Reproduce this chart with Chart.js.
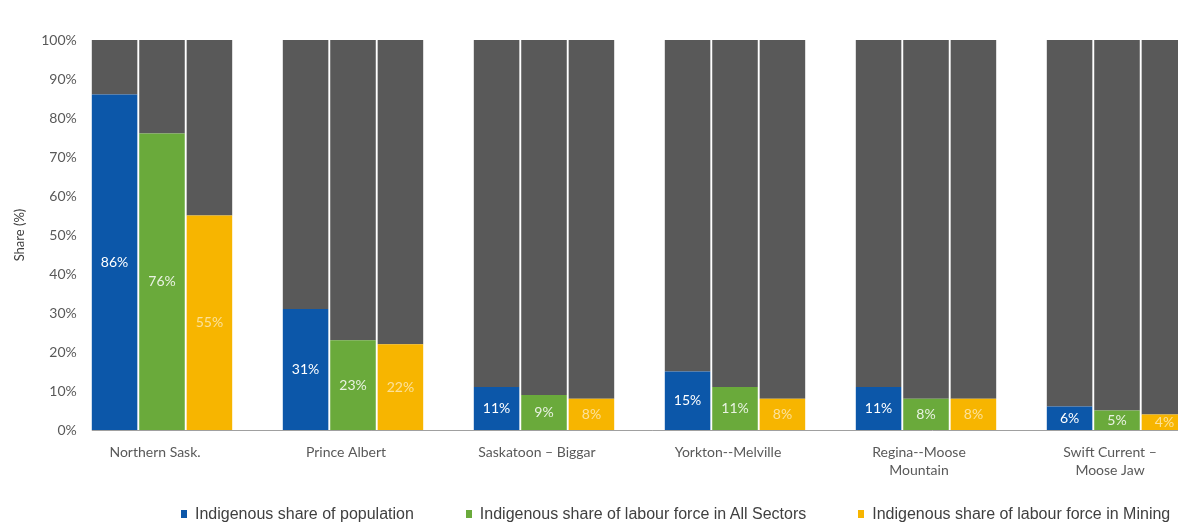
<!DOCTYPE html>
<html lang="en">
<head>
<meta charset="UTF-8">
<title>Indigenous share of population and labour force</title>
<script src="https://cdn.jsdelivr.net/npm/chart.js"></script>
<style>
  html, body { margin: 0; padding: 0; background: #fff; overflow: hidden; }
  .wrap { position: relative; width: 1300px; height: 525px; }
  #legend {
    position: absolute; left: 181px; top: 505px;
    display: flex; align-items: center;
    font-family: "Liberation Sans", Arial, sans-serif; font-size: 16px; color: #404040;
  }
  #legend .item { display: flex; align-items: center; margin-right: 52px; white-space: nowrap; }
  #legend .box { width: 6px; height: 8px; margin-right: 8px; }
</style>
</head>
<body>
<div class="wrap">
  <canvas id="shareChart"></canvas>
  <div id="legend"></div>
</div>

<script>
// economic regions
const regions = [
  'Northern Sask.',
  'Prince Albert',
  'Saskatoon – Biggar',
  'Yorkton--Melville',
  ['Regina--Moose', 'Mountain'],
  ['Swift Current –', 'Moose Jaw']
];

// Indigenous shares, in percent
const popShare = [86, 31, 11, 15, 11, 6];
const allSectorsShare = [76, 23, 9, 11, 8, 5];
const miningShare = [55, 22, 8, 8, 8, 4];

const yTicks = [0, 10, 20, 30, 40, 50, 60, 70, 80, 90, 100];

const series = [
  { label: 'Indigenous share of population', values: popShare, color: '#0c57a9', text: '#ffffff', stack: 'pop' },
  { label: 'Indigenous share of labour force in All Sectors', values: allSectorsShare, color: '#6aaa3b', text: 'rgba(255,255,255,0.85)', stack: 'all' },
  { label: 'Indigenous share of labour force in Mining', values: miningShare, color: '#f7b500', text: 'rgba(255,255,255,0.6)', stack: 'mining' }
];

const restColor = '#595959';

// coloured share first, then the grey remainder on top of it
const datasets = series.map(s => ({
  label: s.label,
  data: s.values,
  backgroundColor: s.color,
  stack: s.stack
})).concat(series.map(s => ({
  label: 'Other',
  data: s.values.map(v => 100 - v),
  backgroundColor: restColor,
  stack: s.stack
})));

// value labels in the middle of each coloured segment
const barLabels = {
  id: 'barLabels',
  afterDatasetsDraw(chart) {
    const ctx = chart.ctx;
    ctx.save();
    ctx.font = '14px Lato';
    ctx.textAlign = 'center';
    ctx.textBaseline = 'middle';
    series.forEach((s, i) => {
      chart.getDatasetMeta(i).data.forEach((bar, j) => {
        ctx.fillStyle = s.text;
        ctx.fillText(s.values[j] + '%', bar.x, (bar.y + bar.base) / 2);
      });
    });
    ctx.restore();
  }
};

// baseline starting at the first bar
const baseline = {
  id: 'baseline',
  beforeDatasetsDraw(chart) {
    const first = chart.getDatasetMeta(0).data[0];
    const y = Math.round(chart.scales.y.getPixelForValue(0)) + 0.5;
    const ctx = chart.ctx;
    ctx.save();
    ctx.strokeStyle = '#a0a0a0';
    ctx.lineWidth = 1;
    ctx.beginPath();
    ctx.moveTo(first.x - first.width / 2, y);
    ctx.lineTo(chart.chartArea.right, y);
    ctx.stroke();
    ctx.restore();
  }
};

// percent labels sit a little inside the plot's left edge, next to the first bar
const yLabels = {
  id: 'yLabels',
  afterDraw(chart) {
    const y = chart.scales.y;
    const first = chart.getDatasetMeta(0).data[0];
    const right = first.x - first.width / 2 - 15;
    const ctx = chart.ctx;
    ctx.save();
    ctx.font = '14px Lato';
    ctx.fillStyle = '#595959';
    ctx.textAlign = 'right';
    ctx.textBaseline = 'middle';
    yTicks.forEach(v => ctx.fillText(v + '%', right, y.getPixelForValue(v)));
    ctx.restore();
  }
};

const ctx = document.getElementById('shareChart').getContext('2d');
const shareChart = new Chart(ctx, {
  type: 'bar',
  data: { labels: regions, datasets: datasets },
  options: {
    responsive: true,
    maintainAspectRatio: false,
    animation: false,
    datasets: {
      bar: { barPercentage: 0.96, categoryPercentage: 0.745 }
    },
    layout: { padding: { left: 12, right: 87.5, top: 40, bottom: 35 } },
    plugins: {
      legend: { display: false },
      tooltip: { enabled: false }
    },
    scales: {
      x: {
        stacked: true,
        grid: { display: false, drawTicks: false },
        border: { display: false },
        ticks: {
          color: '#595959',
          font: { family: 'Lato', size: 14, lineHeight: 1.3 },
          padding: 13,
          labelOffset: -7,
          maxRotation: 0,
          autoSkip: false
        },
        afterFit(axis) { axis.height = 60; }
      },
      y: {
        stacked: true,
        min: 0,
        max: 100,
        grid: { display: false, drawTicks: false },
        border: { display: false },
        ticks: { display: false, stepSize: 10 },
        title: {
          display: true,
          text: 'Share (%)',
          color: '#404040',
          font: { family: 'Lato', size: 13 },
          padding: { top: 0, bottom: 0 }
        },
        afterFit(axis) { axis.width = 54.5; }
      }
    }
  },
  plugins: [baseline, barLabels, yLabels]
});

// legend for the three coloured series
const legend = document.getElementById('legend');
series.forEach(s => {
  const item = document.createElement('div');
  item.className = 'item';
  const box = document.createElement('span');
  box.className = 'box';
  box.style.background = s.color;
  const txt = document.createElement('span');
  txt.textContent = s.label;
  item.appendChild(box);
  item.appendChild(txt);
  legend.appendChild(item);
});
</script>
</body>
</html>
